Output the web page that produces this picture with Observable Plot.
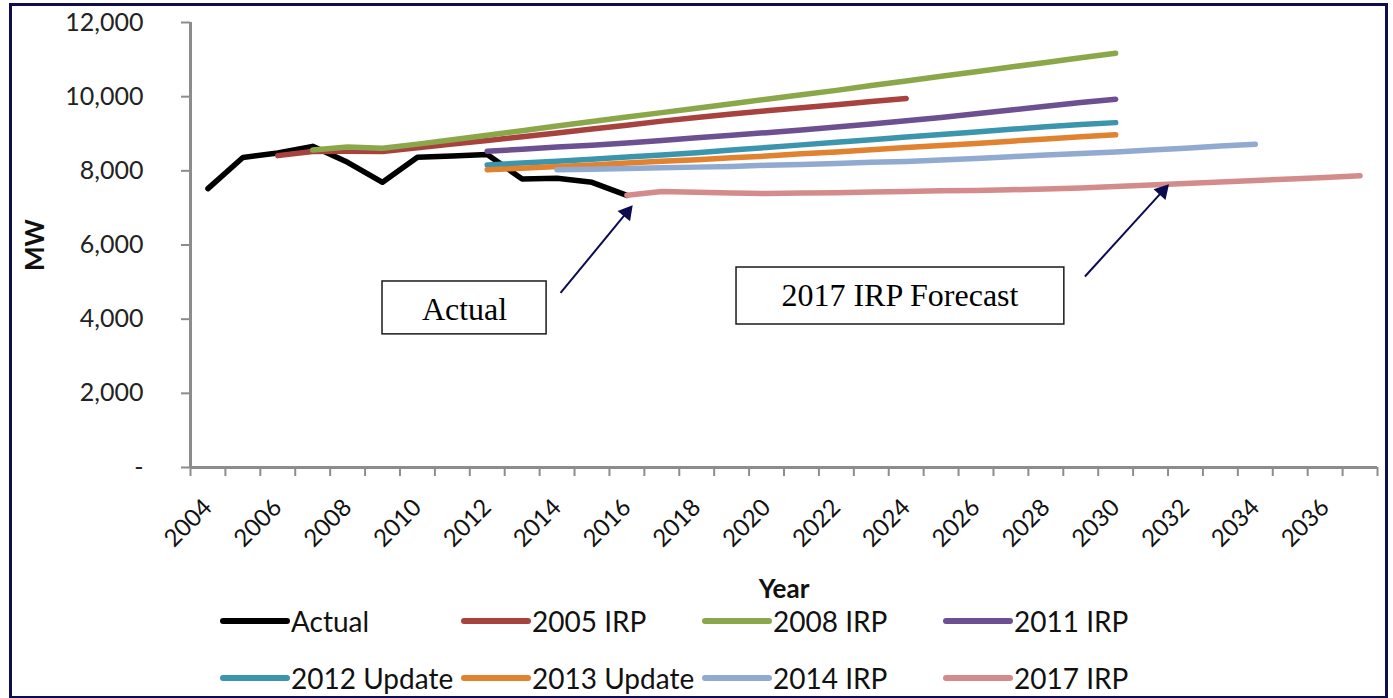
<!DOCTYPE html>
<html>
<head>
<meta charset="utf-8">
<script src="https://cdn.jsdelivr.net/npm/d3@7"></script>
<script src="https://cdn.jsdelivr.net/npm/@observablehq/plot@0.6"></script>
<style>
  html, body { margin: 0; padding: 0; background: #fff; }
  body { width: 1393px; height: 698px; position: relative; overflow: hidden; font-family: Lato, "Open Sans", sans-serif; }
  #chart { position: absolute; left: 0; top: 0; }
  #frame { position: absolute; left: 9px; top: 3px; width: 1373px; height: 690px; border: 3px solid #0d0d4f; pointer-events: none; }
  #legend { position: absolute; left: 220px; top: 592px; display: grid; grid-template-columns: repeat(4, 241px); grid-auto-rows: 57px; }
  .item { display: flex; align-items: center; font-size: 28px; color: #111; white-space: nowrap; }
  .sw { width: 70px; height: 6px; border-radius: 3px; margin-right: 1px; flex: none; }
</style>
</head>
<body>
<div id="chart"></div>
<div id="legend"></div>
<div id="frame"></div>
<script>
// ---- data ----
const seriesNames = ["Actual", "2005 IRP", "2008 IRP", "2011 IRP", "2012 Update", "2013 Update", "2014 IRP", "2017 IRP"];
const seriesColors = ["#000000", "#a8423f", "#8aa84a", "#6c5091", "#3a95ad", "#e0822f", "#91aad0", "#d38c8b"];
const seriesStart = [2004, 2006, 2007, 2012, 2012, 2012, 2014, 2016];

const actual   = [7520, 8360, 8480, 8660, 8230, 7690, 8365, 8400, 8440, 7780, 7800, 7690, 7340];
const irp2005  = [8410, 8520, 8530, 8520, 8620, 8720, 8820, 8920, 9020, 9130, 9230, 9340, 9440, 9530, 9620, 9700, 9780, 9870, 9950];
const irp2008  = [8560, 8640, 8610, 8720, 8840, 8960, 9080, 9210, 9330, 9450, 9570, 9690, 9810, 9930, 10050, 10170, 10300, 10420, 10550, 10670, 10800, 10920, 11050, 11170];
const irp2011  = [8530, 8580, 8640, 8690, 8750, 8820, 8890, 8960, 9030, 9100, 9180, 9260, 9350, 9440, 9540, 9640, 9740, 9840, 9930];
const upd2012  = [8160, 8210, 8260, 8310, 8370, 8430, 8490, 8560, 8630, 8700, 8770, 8840, 8910, 8980, 9050, 9120, 9190, 9250, 9300];
const upd2013  = [8030, 8070, 8120, 8160, 8210, 8260, 8300, 8350, 8400, 8460, 8510, 8570, 8630, 8680, 8740, 8800, 8860, 8920, 8970];
const irp2014  = [8030, 8040, 8060, 8080, 8100, 8120, 8150, 8170, 8200, 8230, 8250, 8290, 8330, 8380, 8430, 8470, 8510, 8560, 8610, 8670, 8720];
const irp2017  = [7340, 7440, 7420, 7400, 7390, 7400, 7410, 7430, 7440, 7460, 7470, 7490, 7510, 7540, 7580, 7620, 7660, 7700, 7740, 7780, 7820, 7870];
const seriesValues = [actual, irp2005, irp2008, irp2011, upd2012, upd2013, irp2014, irp2017];

const firstYear = 2004, lastYear = 2037;
const xLabelYears = d3.range(2004, 2037, 2);
const yTicks = [0, 2000, 4000, 6000, 8000, 10000, 12000];

// annotations (data units: year, MW)
const boxes = [
  {x1: 2009.0, x2: 2013.7, y1: 3590, y2: 5016, tx: 2011.35, ty: 4261, label: "Actual"},
  {x1: 2019.14, x2: 2028.53, y1: 3856, y2: 5393, tx: 2023.82, ty: 4638, label: "2017 IRP Forecast"}
];
const arrows = [
  {x1: 2014.10, y1: 4706, x2: 2016.16, y2: 7065},
  {x1: 2029.12, y1: 5151, x2: 2031.52, y2: 7632}
];

// ---- build table ----
const table = [];
seriesNames.forEach((name, i) => {
  seriesValues[i].forEach((v, j) => table.push({series: name, year: seriesStart[i] + j, mw: v}));
});

// ---- geometry ----
const W = 1393, H = 605, mL = 190, mR = 16, mT = 22, mB = 138;
const kx = (W - mL - mR) / (lastYear - firstYear + 1); // px per year
const ky = (H - mT - mB) / 12000;                       // px per MW
const headBack = 9;
const heads = arrows.map(a => {
  const dx = (a.x2 - a.x1) * kx, dy = (a.y2 - a.y1) * ky;
  const ang = Math.atan2(dx, dy);
  return {
    x: a.x2 - Math.sin(ang) * headBack / kx,
    y: a.y2 - Math.cos(ang) * headBack / ky,
    rotate: ang * 180 / Math.PI,
    x1: a.x1, y1: a.y1
  };
});

const axisGrey = "#8c8c8c";
const plot = Plot.plot({
  width: W, height: H,
  marginLeft: mL, marginRight: mR, marginTop: mT, marginBottom: mB,
  style: {fontFamily: "Lato, 'Open Sans', sans-serif", background: "transparent", overflow: "visible"},
  x: {type: "linear", domain: [firstYear - 0.5, lastYear + 0.5]},
  y: {domain: [0, 12000]},
  color: {domain: seriesNames, range: seriesColors},
  marks: [
    Plot.axisY({ticks: yTicks, tickSize: 9, tickPadding: 38, fontSize: 25, stroke: axisGrey, fill: "#222", strokeWidth: 2,
      tickFormat: d => d === 0 ? "-" : d3.format(",")(d), label: null}),
    Plot.axisX({ticks: d3.range(firstYear - 0.5, lastYear + 1, 1), tickSize: 9, stroke: axisGrey, strokeWidth: 2,
      tickFormat: () => "", label: null}),
    Plot.axisX({ticks: xLabelYears, tickSize: 0, tickPadding: 36, tickRotate: -45, fontSize: 24, fill: "#111",
      tickFormat: d => String(d), label: null}),
    Plot.ruleY([0], {stroke: axisGrey, strokeWidth: 3}),
    Plot.ruleX([firstYear - 0.5], {stroke: axisGrey, strokeWidth: 3}),
    Plot.lineY(table, {x: "year", y: "mw", z: "series", stroke: "series", strokeWidth: 5.5,
      strokeLinecap: "round", strokeLinejoin: "round"}),
    Plot.rect(boxes, {x1: "x1", x2: "x2", y1: "y1", y2: "y2", fill: "white", stroke: "#1a1a1a", strokeWidth: 1.5}),
    Plot.text(boxes, {x: "tx", y: "ty", text: "label", fontFamily: "'Liberation Serif', 'Times New Roman', serif",
      fontSize: 32, fill: "#000", textAnchor: "middle"}),
    Plot.link(heads, {x1: "x1", y1: "y1", x2: "x", y2: "y", stroke: "#0b0b50", strokeWidth: 2}),
    Plot.dot(heads, {x: "x", y: "y", symbol: "triangle", r: 6, fill: "#0b0b50", stroke: "none", rotate: "rotate"}),
    Plot.text(["MW"], {frameAnchor: "left", dx: -155, rotate: -90, textAnchor: "middle", lineAnchor: "middle",
      fontWeight: "bold", fontSize: 26, fill: "#111"}),
    Plot.text(["Year"], {frameAnchor: "bottom", dy: 122, textAnchor: "middle", lineAnchor: "middle",
      fontWeight: "bold", fontSize: 26, fill: "#111"})
  ]
});
document.getElementById("chart").appendChild(plot);

// ---- legend ----
const legend = document.getElementById("legend");
seriesNames.forEach((name, i) => {
  const it = document.createElement("div");
  it.className = "item";
  const sw = document.createElement("span");
  sw.className = "sw";
  sw.style.background = seriesColors[i];
  const t = document.createElement("span");
  t.textContent = name;
  it.appendChild(sw); it.appendChild(t);
  legend.appendChild(it);
});
</script>
</body>
</html>
